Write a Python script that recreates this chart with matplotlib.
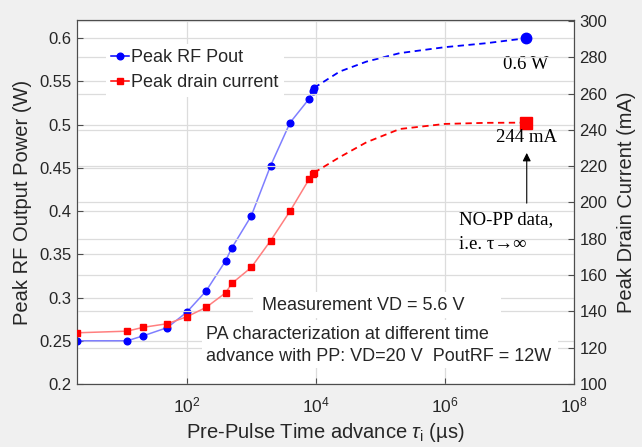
import matplotlib
matplotlib.use('Agg')
import matplotlib.pyplot as plt
from matplotlib.lines import Line2D
from matplotlib.patches import Rectangle
from matplotlib.ticker import NullLocator

plt.rcParams['font.family'] = ['Liberation Sans', 'DejaVu Sans']
plt.rcParams['mathtext.fontset'] = 'custom'
plt.rcParams['mathtext.rm'] = 'Liberation Sans'
plt.rcParams['mathtext.it'] = 'Liberation Sans:italic'

# pre-pulse time advance (us) for the measured points
t_us = [2, 12, 21, 50, 100, 200, 400, 500, 1000, 2000, 4000, 7900, 8900, 9400]
pout_w = [0.250, 0.250, 0.2556, 0.2652, 0.283, 0.3076, 0.3424, 0.3574,
          0.3944, 0.4527, 0.5024, 0.530, 0.5395, 0.5426]
idrain_ma = [128.2, 129.1, 131.2, 133.2, 137.0, 142.2, 150.2, 155.4,
             164.2, 179.0, 195.3, 212.9, 215.5, 216.4]

# dashed trend towards the no-pre-pulse case
t_trend = [9400, 23500, 61100, 200000, 1.0e6, 4.4e6, 1.8e7]
pout_trend = [0.5426, 0.5615, 0.573, 0.5828, 0.5897, 0.5943, 0.6]
idrain_trend = [216.4, 225.0, 233.2, 240.5, 243.3, 243.9, 244.0]

# NO-PP data (tau -> infinity)
t_nopp = 1.8e7
pout_nopp = 0.6
idrain_nopp = 244

yticks_w = [0.2, 0.25, 0.3, 0.35, 0.4, 0.45, 0.5, 0.55, 0.6]
ytick_labels_w = ['0.2', '0.25', '0.3', '0.35', '0.4', '0.45', '0.5', '0.55', '0.6']
yticks_ma = [100, 120, 140, 160, 180, 200, 220, 240, 260, 280, 300]
xticks = [1e2, 1e4, 1e6, 1e8]
xtick_labels = [r'$10^2$', r'$10^4$', r'$10^6$', r'$10^8$']

txt = '#262626'
grid_c = '#dcdcdc'

fig = plt.figure(figsize=(6.42, 4.47), dpi=100, facecolor='#f0f0f0')
ax = fig.add_axes([0.12, 0.141, 0.774, 0.814])
ax2 = ax.twinx()

ax.plot(t_us, pout_w, color='#7f7fff', lw=1.1, zorder=3)
ax.plot(t_us, pout_w, 'o', color='#0000ff', ms=4.8, zorder=4)
ax.plot(t_trend, pout_trend, color='#0000ff', lw=1.3, ls=(0, (3.5, 2.5)), zorder=3)
ax.plot(t_nopp, pout_nopp, 'o', color='#0000ff', ms=7.5, zorder=4)

ax2.plot(t_us, idrain_ma, color='#ff7f7f', lw=1.1, zorder=3)
ax2.plot(t_us, idrain_ma, 's', color='#ff0000', ms=4, zorder=4)
ax2.plot(t_trend, idrain_trend, color='#ff0000', lw=1.3, ls=(0, (3.5, 2.5)), zorder=3)
ax2.plot(t_nopp, idrain_nopp, 's', color='#ff0000', ms=8, zorder=4)

ax.set_xscale('log')
ax.set_xlim(2, 1e8)
ax.set_xticks(xticks)
ax.set_xticklabels(xtick_labels)
ax.xaxis.set_minor_locator(NullLocator())
ax.set_ylim(0.2, 0.621)
ax.set_yticks(yticks_w)
ax.set_yticklabels(ytick_labels_w)
ax2.set_ylim(100, 300.5)
ax2.set_yticks(yticks_ma)

for a in (ax, ax2):
    a.grid(True, color=grid_c, lw=0.9)
    a.tick_params(direction='in', length=4, width=0.8, colors='#4d4d4d',
                  labelcolor=txt, labelsize=12, pad=4)
    for s in a.spines.values():
        s.set_color('#4d4d4d')
        s.set_linewidth(0.8)
ax.tick_params(axis='x', pad=8, labelsize=12.5)
ax.set_facecolor('white')
ax2.patch.set_visible(False)

ax.set_xlabel(r'Pre-Pulse Time advance $\tau_\mathrm{i}$ (µs)', fontsize=14.5, color=txt, labelpad=4)
ax.set_ylabel('Peak RF Output Power (W)', fontsize=14.5, color=txt, labelpad=5)
ax2.set_ylabel('Peak Drain Current (mA)', fontsize=14.5, color=txt, labelpad=7)

# white boxes behind the notes
ax2.add_patch(Rectangle((0.354, 0.181), 0.50, 0.072, transform=ax2.transAxes,
                        facecolor='white', edgecolor='none', zorder=2))
ax2.add_patch(Rectangle((0.2515, 0.045), 0.716, 0.131, transform=ax2.transAxes,
                        facecolor='white', edgecolor='none', zorder=2))
ax2.text(0.372, 0.217, 'Measurement VD = 5.6 V', transform=ax2.transAxes,
         fontsize=13, color=txt, ha='left', va='center', zorder=5)
ax2.text(0.2605, 0.136, 'PA characterization at different time', transform=ax2.transAxes,
         fontsize=13, color=txt, ha='left', va='center', zorder=5)
ax2.text(0.2605, 0.075, 'advance with PP: VD=20 V  PoutRF = 12W', transform=ax2.transAxes,
         fontsize=13, color=txt, ha='left', va='center', zorder=5)

serif = ['Liberation Serif', 'DejaVu Serif']
ax.annotate('0.6 W', xy=(t_nopp, pout_nopp), xytext=(0, -19), textcoords='offset points',
            ha='center', va='center', fontsize=13.5, family=serif, color='black')
ax2.text(0.905, 0.677, '244 mA', transform=ax2.transAxes, ha='center', va='center',
         fontsize=13.5, family=serif, color='black', zorder=5)
ax2.annotate('', xy=(0.905, 0.635), xytext=(0.905, 0.497), xycoords='axes fraction',
             arrowprops=dict(arrowstyle='-|>', color='black', lw=0.8,
                             mutation_scale=12, shrinkA=0, shrinkB=0))
ax2.text(0.769, 0.451, 'NO-PP data,', transform=ax2.transAxes, ha='left', va='center',
         fontsize=13.5, family=serif, color='black', zorder=5)
ax2.text(0.769, 0.382, 'i.e. τ→∞', transform=ax2.transAxes, ha='left', va='center',
         fontsize=13.5, family=serif, color='black', zorder=5)

handles = [Line2D([], [], color='#0000ff', marker='o', ms=4.8, lw=1.1),
           Line2D([], [], color='#ff0000', marker='s', ms=4, lw=1.1)]
leg = ax2.legend(handles, ['Peak RF Pout', 'Peak drain current'], loc='upper left',
                 bbox_to_anchor=(0.04, 0.96), fontsize=13, handlelength=1.0,
                 handletextpad=0.1, labelspacing=0.45, borderpad=0.3,
                 frameon=True, framealpha=1, fancybox=False)
leg.get_frame().set_edgecolor('none')
leg.set_zorder(6)
for t in leg.get_texts():
    t.set_color(txt)

fig.savefig('out.png', dpi=100, facecolor=fig.get_facecolor())
